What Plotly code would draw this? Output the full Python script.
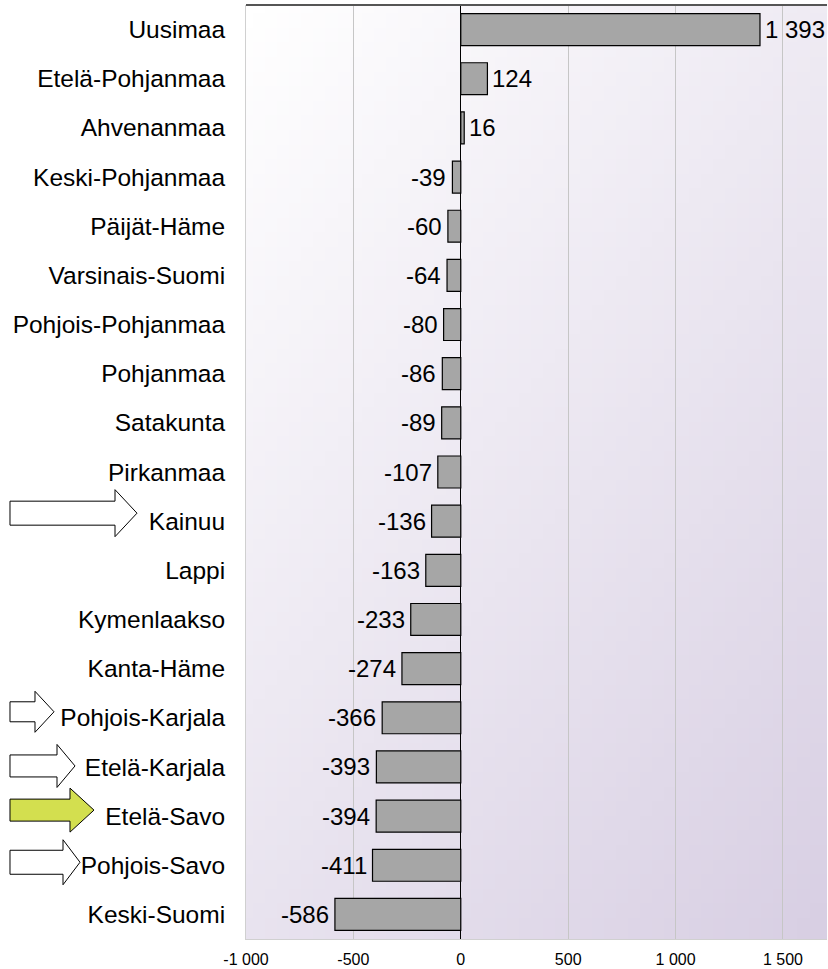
import base64
import struct
import zlib

import plotly.graph_objects as go

# ---------------- data ----------------
regions = [
    "Uusimaa", "Etelä-Pohjanmaa", "Ahvenanmaa", "Keski-Pohjanmaa", "Päijät-Häme",
    "Varsinais-Suomi", "Pohjois-Pohjanmaa", "Pohjanmaa", "Satakunta", "Pirkanmaa",
    "Kainuu", "Lappi", "Kymenlaakso", "Kanta-Häme", "Pohjois-Karjala",
    "Etelä-Karjala", "Etelä-Savo", "Pohjois-Savo", "Keski-Suomi",
]
values = [1393, 124, 16, -39, -60, -64, -80, -86, -89, -107,
          -136, -163, -233, -274, -366, -393, -394, -411, -586]
tick_values = [-1000, -500, 0, 500, 1000, 1500]
arrow_regions = ["Kainuu", "Pohjois-Karjala", "Etelä-Karjala", "Etelä-Savo", "Pohjois-Savo"]
highlight_region = "Etelä-Savo"


def fmt(v):
    return f"{v:,}".replace(",", " ")


# ---------------- style ----------------
W, H = 828, 969
M_L, M_R, M_T, M_B = 246, 1, 5, 30
PLOT_W = W - M_L - M_R
PLOT_H = H - M_T - M_B
ROW_PX = PLOT_H / len(regions)
FONT = "Liberation Sans, Arial, sans-serif"

# arrow geometry in pixels: (body end x, tip x, vertical offset, head half-height, body half-height)
arrow_geom = {
    "Kainuu": (115, 137, -8, 23.5, 12),
    "Pohjois-Karjala": (35, 54, -6, 20.5, 10),
    "Etelä-Karjala": (57, 75, -1, 21.5, 11),
    "Etelä-Savo": (70, 94, -6, 22, 11),
    "Pohjois-Savo": (63, 80, -3, 22.5, 12),
}
ARROW_TAIL = 10


def gradient_png(w, h, c0, c1, wx=0.42, wy=0.58):
    raw = bytearray()
    for yy in range(h):
        raw.append(0)
        for xx in range(w):
            t = wx * xx / (w - 1) + wy * yy / (h - 1)
            for k in range(3):
                raw.append(int(round(c0[k] + (c1[k] - c0[k]) * t)))

    def chunk(tag, data):
        c = struct.pack(">I", len(data)) + tag + data
        return c + struct.pack(">I", zlib.crc32(tag + data) & 0xFFFFFFFF)

    png = b"\x89PNG\r\n\x1a\n"
    png += chunk(b"IHDR", struct.pack(">IIBBBBB", w, h, 8, 2, 0, 0, 0))
    png += chunk(b"IDAT", zlib.compress(bytes(raw), 9))
    png += chunk(b"IEND", b"")
    return "data:image/png;base64," + base64.b64encode(png).decode()


bg_img = gradient_png(48, 64, (255, 255, 255), (216, 207, 227))

fig = go.Figure()
fig.add_trace(go.Bar(
    x=values, y=regions, orientation="h", width=0.65,
    marker=dict(color="#a6a6a6", line=dict(color="#000000", width=1.2)),
    hoverinfo="x+y",
))

annotations = []
for r, v in zip(regions, values):
    annotations.append(dict(
        x=v, y=r, xref="x", yref="y", text=fmt(v), showarrow=False,
        xanchor="left" if v >= 0 else "right",
        xshift=3 if v >= 0 else -4,
        font=dict(family=FONT, size=24, color="#000000"),
    ))

shapes = [
    dict(type="line", xref="paper", yref="paper", x0=0, x1=1, y0=1, y1=1,
         line=dict(color="#555555", width=2), layer="above"),
]


def px_to_paper(px):
    return (px - M_L) / PLOT_W


for r in arrow_regions:
    body_end, tip, dy, hh, bh = arrow_geom[r]
    i = regions.index(r)
    c = i + dy / ROW_PX
    hh_u = hh / ROW_PX
    bh_u = bh / ROW_PX
    x0, xb, xt = px_to_paper(ARROW_TAIL), px_to_paper(body_end), px_to_paper(tip)
    pts = [(x0, c - bh_u), (xb, c - bh_u), (xb, c - hh_u), (xt, c),
           (xb, c + hh_u), (xb, c + bh_u), (x0, c + bh_u)]
    path = "M " + " L ".join(f"{x:.5f},{y:.5f}" for x, y in pts) + " Z"
    shapes.append(dict(
        type="path", xref="paper", yref="y", path=path,
        fillcolor="#d3df4f" if r == highlight_region else "#ffffff",
        line=dict(color="#000000", width=1), layer="above",
    ))

fig.update_layout(
    width=W, height=H,
    margin=dict(l=M_L, r=M_R, t=M_T, b=M_B, pad=0),
    paper_bgcolor="#ffffff",
    plot_bgcolor="rgba(0,0,0,0)",
    showlegend=False,
    bargap=0.35,
    font=dict(family=FONT, color="#000000"),
    images=[dict(source=bg_img, xref="paper", yref="paper", x=0, y=1,
                 sizex=1, sizey=1, sizing="stretch", layer="below",
                 xanchor="left", yanchor="top")],
    annotations=annotations,
    shapes=shapes,
)
fig.update_xaxes(
    range=[-1000, 1705], tickvals=tick_values, ticktext=[fmt(v) for v in tick_values],
    showgrid=True, gridcolor="#c6c6c6", gridwidth=1,
    zeroline=True, zerolinecolor="#000000", zerolinewidth=1,
    showline=True, linecolor="#d0d0d0", linewidth=1,
    ticks="outside", ticklen=6, tickcolor="rgba(0,0,0,0)",
    tickfont=dict(family=FONT, size=16, color="#000000"),
    fixedrange=True,
)
fig.update_yaxes(
    autorange="reversed", type="category",
    showgrid=False, showline=True, linecolor="#d0d0d0", linewidth=1,
    ticks="", ticklabelstandoff=15,
    tickfont=dict(family=FONT, size=24.5, color="#000000"),
    fixedrange=True,
)

fig.write_html(
    "out.html",
    config={"displayModeBar": False},
    post_script="document.body.style.margin='0px';document.body.style.padding='0px';",
)
